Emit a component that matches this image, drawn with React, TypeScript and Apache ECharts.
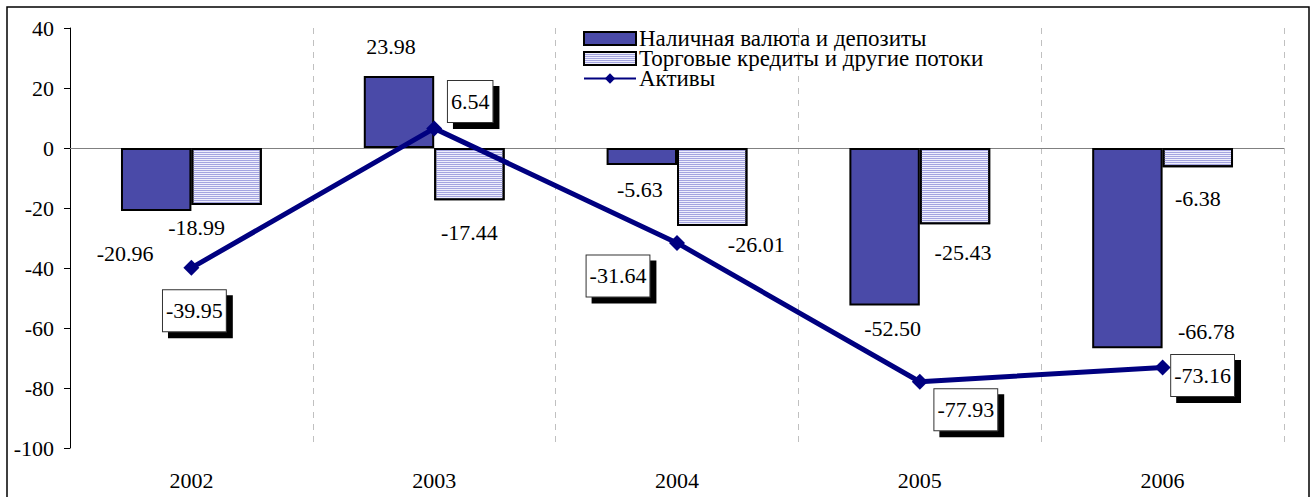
import React, { useEffect, useRef } from "react";
import * as echarts from "echarts";

const years = ["2002", "2003", "2004", "2005", "2006"];
const cashDeposits = [-20.96, 23.98, -5.63, -52.5, -66.78];
const tradeCredits = [-18.99, -17.44, -26.01, -25.43, -6.38];
const assets = [-39.95, 6.54, -31.64, -77.93, -73.16];
const seriesNames = [
  "Наличная валюта и депозиты",
  "Торговые кредиты и другие потоки",
  "Активы",
];

// label offsets (style only)
const cashOffsets = [[-31, 74], [-8, -66], [-2, 33], [8, 102], [79, 83]];
const tradeOffsets = [[-30, 51], [0, 58], [44, 57], [8, 66], [0, 41]];
const assetOffsets = [[3, 43], [36, -27], [-59, 33], [46, 28], [40, 8]];

const FONT = "'Liberation Serif', 'Times New Roman', serif";

export default function App() {
  const ref = useRef<HTMLDivElement>(null);
  useEffect(() => {
    if (!ref.current) return;
    const chart = echarts.init(ref.current, undefined, { renderer: "svg" });
    const fmt = (v: number) => v.toFixed(2);
    const plainLabel = (v: number, off: number[]) => ({
      show: true,
      position: "inside",
      offset: off,
      formatter: () => fmt(v),
      fontFamily: FONT,
      fontSize: 22,
      color: "#000",
    });
    chart.setOption({
      animation: false,
      textStyle: { fontFamily: FONT, color: "#000" },
      grid: { left: 70, right: 27, top: 28, bottom: 49, containLabel: false },
      graphic: [
        {
          type: "rect",
          shape: { x: 7, y: 7, width: 1302, height: 500 },
          style: { fill: "none", stroke: "#000", lineWidth: 1.5 },
          silent: true,
        },
      ],
      legend: {
        orient: "vertical",
        left: 583,
        top: 27,
        itemWidth: 52,
        itemHeight: 13,
        itemGap: -3,
        padding: 0,
        textStyle: { fontFamily: FONT, fontSize: 23, lineHeight: 19, color: "#000", padding: [0, 0, 0, -2] },
        data: [
          { name: seriesNames[0], icon: "rect" },
          { name: seriesNames[1], icon: "rect" },
          { name: seriesNames[2] },
        ],
      },
      xAxis: {
        type: "category",
        data: years,
        axisLine: { show: false },
        axisTick: { show: false },
        axisLabel: { fontFamily: FONT, fontSize: 22, color: "#000", margin: 21 },
        splitLine: { show: true, lineStyle: { color: "#c0c0c0", type: [6, 6], width: 1 } },
      },
      yAxis: {
        type: "value",
        min: -100,
        max: 40,
        interval: 20,
        axisLine: { show: true, lineStyle: { color: "#000", width: 1 } },
        axisTick: { show: true, inside: false, length: 6, lineStyle: { color: "#000" } },
        axisLabel: { fontFamily: FONT, fontSize: 22, color: "#000", margin: 16 },
        splitLine: { show: false },
      },
      series: [
        {
          name: seriesNames[0],
          type: "bar",
          barGap: "0%",
          barCategoryGap: "42%",
          itemStyle: { color: "#4a4aa8", borderColor: "#000", borderWidth: 2 },
          label: { fontFamily: FONT, fontSize: 22 },
          data: cashDeposits.map((v, i) => ({ value: v, label: plainLabel(v, cashOffsets[i]) })),
          markLine: {
            silent: true,
            symbol: "none",
            label: { show: false },
            lineStyle: { color: "#808080", type: "solid", width: 1 },
            data: [{ yAxis: 0 }],
            z: 1,
          },
        },
        {
          name: seriesNames[1],
          type: "bar",
          barGap: "0%",
          barCategoryGap: "42%",
          itemStyle: {
            color: "#eeeefc",
            borderColor: "#000",
            borderWidth: 2,
            decal: {
              symbol: "rect",
              symbolSize: 1,
              color: "#a4a4e0",
              dashArrayX: [1, 0],
              dashArrayY: [1, 1],
              rotation: 0,
            },
          },
          label: { fontFamily: FONT, fontSize: 22 },
          data: tradeCredits.map((v, i) => ({ value: v, label: plainLabel(v, tradeOffsets[i]) })),
        },
        {
          name: seriesNames[2],
          type: "line",
          z: 5,
          symbol: "diamond",
          symbolSize: 16,
          lineStyle: { color: "#000080", width: 5 },
          itemStyle: { color: "#000080" },
          label: { fontFamily: FONT, fontSize: 22 },
          data: assets.map((v, i) => ({
            value: v,
            label: {
              show: true,
              position: "inside",
              offset: assetOffsets[i],
              formatter: () => fmt(v),
              fontFamily: FONT,
              fontSize: 22,
              lineHeight: 24,
              color: "#000",
              backgroundColor: "#fff",
              borderColor: "#333",
              borderWidth: 1,
              padding: [9, 3, 8, 3],
              shadowColor: "#000",
              shadowBlur: 0,
              shadowOffsetX: 6,
              shadowOffsetY: 6,
            },
          })),
        },
      ],
    });
    return () => chart.dispose();
  }, []);
  return (
    <div
      ref={ref}
      style={{ position: "absolute", left: 0, top: 0, width: 1311, height: 497 }}
    />
  );
}
